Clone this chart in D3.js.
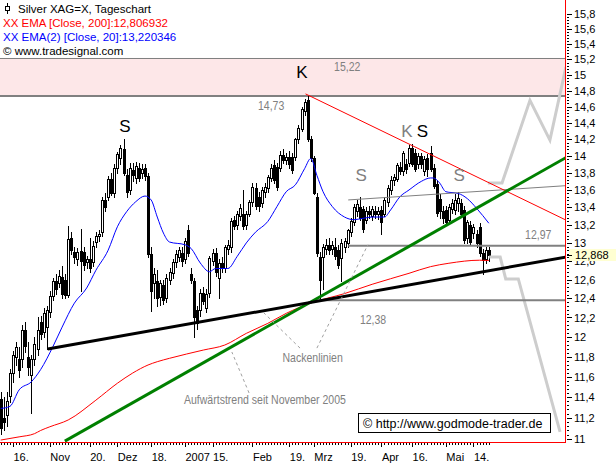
<!DOCTYPE html>
<html><head><meta charset="utf-8">
<script src="https://cdn.jsdelivr.net/npm/d3@7/dist/d3.min.js"></script>
<style>
html,body{margin:0;padding:0;background:#fff;overflow:hidden}
svg{display:block}
text{font-family:"Liberation Sans",Arial,sans-serif}
</style></head><body>
<svg id="chart" width="616" height="467"></svg>
<script>
// ---- daily candles, trading day 0 = 10 Oct 2006 ----
const openP = [11.38,11.20,11.23,11.41,11.64,11.80,11.78,11.78,12.07,11.80,
11.62,11.78,11.88,12.15,12.05,12.10,12.26,12.43,12.58,12.56,
12.63,12.60,12.44,13.06,12.90,12.82,12.91,12.90,12.79,12.82,
12.79,13.01,13.08,13.12,13.49,13.52,13.73,13.57,13.86,13.98,
14.08,13.77,13.60,13.83,13.74,13.86,13.80,13.86,13.76,12.88,
12.56,12.59,12.42,12.54,12.40,12.60,12.67,12.79,12.85,12.89,
12.82,13.14,12.66,12.58,12.28,12.28,12.46,12.30,12.46,12.80,
12.89,12.62,12.78,12.72,12.93,12.95,13.26,13.20,13.30,13.33,
13.20,13.33,13.46,13.62,13.52,13.45,13.58,13.62,13.74,13.89,
13.87,13.86,14.01,13.95,13.99,13.99,13.99,14.20,14.33,14.55,
14.68,14.20,13.97,13.52,12.84,12.84,12.93,12.98,12.93,12.96,
12.92,12.83,12.96,13.00,13.12,13.23,13.36,13.40,13.38,13.26,
13.36,13.30,13.36,13.32,13.37,13.33,13.46,13.60,13.72,13.73,
13.87,13.82,13.90,13.92,14.09,14.03,13.90,14.00,13.82,13.97,
14.03,13.86,13.67,13.50,13.36,13.37,13.26,13.38,13.37,13.45,
13.45,13.37,13.05,13.20,13.11,13.10,13.18,12.89,12.82,12.92];
const highP = [11.45,11.40,11.45,11.68,11.86,11.95,11.90,12.12,12.15,11.95,
11.82,12.00,12.20,12.22,12.30,12.32,12.48,12.62,12.66,12.70,
12.75,12.66,13.19,13.12,12.95,12.94,13.15,12.95,12.86,13.06,
13.02,13.12,13.14,13.52,13.56,13.76,13.80,13.90,14.05,14.13,
14.20,13.84,13.92,13.92,13.93,13.92,13.90,13.90,13.80,12.95,
12.72,12.70,12.60,12.60,12.66,12.72,12.82,12.92,12.95,12.96,
13.06,13.20,12.72,12.62,12.32,12.50,12.52,12.50,12.86,12.93,
12.94,12.82,12.84,12.98,13.03,13.28,13.30,13.36,13.44,13.60,
13.36,13.48,13.68,13.68,13.58,13.64,13.68,13.78,13.90,13.95,
13.92,14.06,14.08,14.04,14.06,14.04,14.22,14.37,14.60,14.70,
14.73,14.24,14.00,13.57,12.90,12.99,13.04,13.06,13.02,13.05,
12.98,13.04,13.06,13.16,13.28,13.44,13.48,13.52,13.42,13.40,
13.42,13.42,13.42,13.40,13.42,13.52,13.66,13.76,13.79,13.92,
13.93,14.06,13.96,14.13,14.14,14.08,14.04,14.04,14.00,14.02,
14.12,13.90,13.70,13.55,13.42,13.41,13.44,13.50,13.55,13.58,
13.50,13.42,13.26,13.24,13.21,13.14,13.22,12.93,12.96,12.96];
const lowP = [11.05,11.08,11.12,11.35,11.55,11.72,11.60,11.70,11.85,11.62,
11.25,11.72,11.82,11.98,12.00,11.88,12.20,12.38,12.45,12.52,
12.40,12.40,12.42,12.88,12.78,12.76,12.48,12.70,12.72,12.68,
12.75,12.96,13.02,13.08,13.36,13.48,13.54,13.52,13.80,13.90,
13.78,13.52,13.55,13.70,13.68,13.70,13.74,13.72,12.85,12.27,
12.40,12.32,12.33,12.34,12.36,12.55,12.62,12.74,12.80,12.75,
12.78,12.86,12.56,12.00,12.08,12.22,12.34,12.26,12.42,12.76,
12.64,12.40,12.68,12.68,12.88,12.90,13.15,13.16,13.26,13.15,
13.16,13.30,13.42,13.38,13.36,13.40,13.52,13.58,13.70,13.68,
13.60,13.82,13.92,13.90,13.86,13.80,13.95,14.16,14.30,14.50,
14.18,13.94,13.55,12.86,12.38,12.50,12.88,12.88,12.88,12.82,
12.72,12.58,12.90,12.96,13.08,13.20,13.30,13.26,13.12,13.22,
13.28,13.26,13.28,13.27,13.10,13.30,13.42,13.55,13.66,13.70,
13.79,13.78,13.80,13.88,13.88,13.82,13.86,13.86,13.78,13.76,
13.82,13.62,13.30,13.28,13.22,13.20,13.22,13.34,13.33,13.36,
13.30,13.00,13.00,12.98,13.06,12.96,12.86,12.66,12.78,12.80];
const closeP = [11.10,11.16,11.36,11.64,11.82,11.90,11.67,12.07,11.91,11.70,
11.78,11.93,12.07,12.03,12.25,12.28,12.43,12.58,12.50,12.64,
12.45,12.44,13.04,12.92,12.84,12.90,12.80,12.76,12.82,12.73,
12.97,13.08,13.10,13.49,13.40,13.73,13.57,13.86,14.02,14.10,
13.80,13.58,13.86,13.77,13.88,13.74,13.84,13.76,12.88,12.48,
12.66,12.40,12.56,12.38,12.62,12.68,12.79,12.88,12.92,12.80,
13.02,12.89,12.60,12.20,12.14,12.46,12.37,12.45,12.83,12.89,
12.68,12.78,12.72,12.95,12.98,13.25,13.19,13.32,13.39,13.19,
13.33,13.46,13.63,13.41,13.42,13.60,13.63,13.75,13.86,13.72,
13.64,14.01,13.95,13.99,13.90,13.83,14.20,14.34,14.57,14.66,
14.20,13.97,13.57,12.89,12.60,12.95,12.98,12.92,12.98,12.86,
12.76,13.00,13.02,13.14,13.24,13.40,13.44,13.28,13.16,13.36,
13.32,13.38,13.32,13.36,13.23,13.48,13.62,13.72,13.75,13.89,
13.82,14.03,13.84,14.10,13.90,13.85,14.00,13.90,13.96,13.84,
13.85,13.65,13.34,13.36,13.28,13.23,13.40,13.45,13.48,13.51,
13.33,13.03,13.23,13.01,13.18,13.00,12.89,12.81,12.92,12.868];

// ---- indicators (at these trading days) ----
const ema20Day = [0,3,6,10,13,17,20,24,28,31,35,38,41,44,47,49,51,53,55,60,62,65,68,70,74,77,80,83,87,90,93,96,99,101,103,105,108,112,115,118,121,125,127,130,133,137,140,141,143,145,149,152,155,159];
const ema20Val = [11.29,11.31,11.47,11.55,11.67,11.90,12.10,12.35,12.51,12.70,12.92,13.18,13.35,13.465,13.53,13.485,13.29,13.11,13.01,12.98,12.94,12.78,12.685,12.72,12.72,12.85,13.00,13.12,13.24,13.41,13.58,13.66,13.85,13.97,13.77,13.58,13.41,13.29,13.26,13.275,13.29,13.29,13.37,13.52,13.60,13.70,13.74,13.74,13.68,13.58,13.56,13.50,13.39,13.22];
const ema200Day = [0,6,11,13,16,22,31,38,43,48,51,55,66,73,80,87,93,101,112,121,133,140,146,156,159];
const ema200Val = [10.99,11.02,11.05,11.08,11.115,11.18,11.37,11.535,11.636,11.716,11.749,11.783,11.866,11.917,12.036,12.139,12.243,12.351,12.451,12.55,12.668,12.74,12.777,12.81,12.807];

// ---- axis ticks ----
const xTickDay = [4,16,29,38,49,60,69,82,94,102,114,124,134,145,154];
const xTickLabel = ["16.","Nov","20.","Dez","18.","2007","15.","Feb","19.","Mrz","19.","Apr","16.","Mai","14."];
const yTickVal = [11,11.2,11.4,11.6,11.8,12,12.2,12.4,12.6,12.8,13,13.2,13.4,13.6,13.8,14,14.2,14.4,14.6,14.8,15,15.2,15.4,15.6,15.8];
const yTickLabel = ["11","11,2","11,4","11,6","11,8","12","12,2","12,4","12,6","12,8","13","13,2","13,4","13,6","13,8","14","14,2","14,4","14,6","14,8","15","15,2","15,4","15,6","15,8"];
const lastPrice = 12.868;

// ---- drawn analysis objects: [trading day, price] ----
const zoneHigh = 15.22, zoneLow = 14.73;
const greenTrend = [[20.9,10.98],[184.1,13.98]];
const blackNeck = [[15.3,11.876],[184.1,12.845]];
const redResist = [[99.3,14.76],[184.1,13.256]];
const grayNeck = [[113.2,13.485],[184.1,13.65]];
const level1297 = [[113.2,12.97],[184.1,12.97]];
const level1238 = [[103.5,12.38],[184.1,12.38]];
const bullPath = [[158.7,13.68],[163.3,13.68],[172.4,14.68],[178.9,14.19],[184.1,15.10]];
const bearPath = [[159.1,12.845],[162.7,12.845],[164.5,12.607],[168.6,12.607],[182.2,11.066]];
const pointerLines = [
  [[97.5,11.886],[85.4,12.258]],
  [[103.0,11.886],[119.6,12.98]],
  [[80.9,11.44],[75.3,11.846]]
];
const grayTexts = [
  {t:"15,22", d:108.6, p:15.05},
  {t:"14,73", d:83.8, p:14.56},
  {t:"12,97", d:170.8, p:13.04},
  {t:"12,38", d:117, p:12.13},
  {t:"Nackenlinien", d:91.8, p:11.75},
  {t:"Aufwärtstrend seit November 2005", d:59.7, p:11.33}
];
const patternLetters = [
  {t:"K", d:98.1, p:14.96, c:"#000"},
  {t:"S", d:40.5, p:14.29, c:"#000"},
  {t:"S", d:117.4, p:13.70, c:"#808080"},
  {t:"K", d:132.3, p:14.23, c:"#808080"},
  {t:"S", d:137.4, p:14.23, c:"#000"},
  {t:"S", d:149.3, p:13.70, c:"#808080"}
];

const svg = d3.select("#chart");
const PW = 565, PH = 442;
const x = d3.scaleLinear().domain([0,184]).range([0.7,565.58]);
const y = d3.scaleLog().domain([11,15.8]).range([439,14]);
const line = d3.line().x(d=>x(d[0])).y(d=>y(d[1]));

svg.append("rect").attr("width",616).attr("height",467).attr("fill","#fff");
svg.append("clipPath").attr("id","plot").append("rect").attr("x",0).attr("y",0).attr("width",PW).attr("height",PH);
const g = svg.append("g").attr("clip-path","url(#plot)");

// zone
g.append("rect").attr("x",0).attr("width",PW)
  .attr("y",y(zoneHigh)).attr("height",y(zoneLow)-y(zoneHigh)).attr("fill","#fde7e8");
g.append("line").attr("x1",0).attr("x2",PW).attr("y1",Math.round(y(zoneHigh))+0.5).attr("y2",Math.round(y(zoneHigh))+0.5)
  .attr("stroke","#808080").attr("stroke-width",1);
g.append("line").attr("x1",0).attr("x2",PW).attr("y1",Math.round(y(zoneLow))).attr("y2",Math.round(y(zoneLow)))
  .attr("stroke","#808080").attr("stroke-width",2);

// candles
const idx = d3.range(closeP.length);
const cg = g.append("g").attr("shape-rendering","crispEdges");
idx.forEach(i=>{
  const cx = Math.round(x(i));
  const o=openP[i], c=closeP[i];
  cg.append("line").attr("x1",cx+0.5).attr("x2",cx+0.5)
    .attr("y1",Math.round(y(highP[i]))).attr("y2",Math.round(y(lowP[i]))+1).attr("stroke","#000");
  const top = Math.round(y(Math.max(o,c))), bot = Math.round(y(Math.min(o,c)));
  if (c >= o) {
    cg.append("rect").attr("x",cx-0.5).attr("y",top+0.5).attr("width",2).attr("height",Math.max(1,bot-top))
      .attr("fill","#fff").attr("stroke","#000").attr("stroke-width",1);
  } else {
    cg.append("rect").attr("x",cx-1).attr("y",top).attr("width",3).attr("height",Math.max(1,bot-top+1)).attr("fill","#000");
  }
});

// indicators
g.append("path").datum(ema200Day.map((d,i)=>[d,ema200Val[i]]))
  .attr("d",line.curve(d3.curveMonotoneX)).attr("fill","none").attr("stroke","#ff0000").attr("stroke-width",1);
g.append("path").datum(ema20Day.map((d,i)=>[d,ema20Val[i]]))
  .attr("d",line.curve(d3.curveMonotoneX)).attr("fill","none").attr("stroke","#0000ff").attr("stroke-width",1);
line.curve(d3.curveLinear);

// analysis lines
function drawLine(pts, color, w, dash){
  const p = g.append("path").datum(pts).attr("d",line).attr("fill","none").attr("stroke",color).attr("stroke-width",w);
  if (dash) p.attr("stroke-dasharray",dash);
  return p;
}
drawLine(bullPath,"#cdcdcd",3);
drawLine(bearPath,"#cdcdcd",3);
drawLine(level1297,"#808080",2);
drawLine(level1238,"#808080",2);
drawLine(grayNeck,"#808080",1);
drawLine(redResist,"#ff0000",1);
drawLine(greenTrend,"#008000",3);
drawLine(blackNeck,"#000000",3);
pointerLines.forEach(pl=>drawLine(pl,"#a0a0a0",1,"3,3"));

// annotation texts (condensed face, like the original)
grayTexts.forEach(a=>{
  svg.append("text").attr("transform",`translate(${x(a.d)},${y(a.p)}) scale(0.81,1)`)
    .attr("font-size",13).attr("fill","#808080").text(a.t);
});
patternLetters.forEach(a=>{
  svg.append("text").attr("x",x(a.d)).attr("y",y(a.p)).attr("text-anchor","middle")
    .attr("font-size",17).attr("fill",a.c).text(a.t);
});

// frame
svg.append("line").attr("x1",565.5).attr("x2",565.5).attr("y1",0).attr("y2",442.5).attr("stroke","#ff0000").attr("shape-rendering","crispEdges");
svg.append("line").attr("x1",0).attr("x2",566).attr("y1",442.5).attr("y2",442.5).attr("stroke","#ff0000").attr("shape-rendering","crispEdges");

// x axis
const xMinor = svg.append("g").attr("transform","translate(0,443)").attr("shape-rendering","crispEdges")
  .call(d3.axisBottom(x).tickValues(idx).tickSize(2).tickFormat(""));
xMinor.select(".domain").remove();
const xMajor = svg.append("g").attr("transform","translate(0,443)").attr("shape-rendering","crispEdges")
  .call(d3.axisBottom(x).tickValues(xTickDay).tickSize(4).tickFormat((d,i)=>xTickLabel[i]));
xMajor.select(".domain").remove();
xMajor.selectAll("text").attr("text-anchor","start").attr("x",0).attr("y",18).attr("dy",null)
  .attr("font-size",11).attr("font-family","Liberation Sans, Arial, sans-serif").attr("fill","#000");

// y axis
const yMinorVals = d3.range(11, 15.81, 0.04);
const yMinor = svg.append("g").attr("transform","translate(567,0)").attr("shape-rendering","crispEdges")
  .call(d3.axisRight(y).tickValues(yMinorVals).tickSize(2).tickFormat(""));
yMinor.select(".domain").remove();
const yMajor = svg.append("g").attr("transform","translate(567,0)").attr("shape-rendering","crispEdges")
  .call(d3.axisRight(y).tickValues(yTickVal).tickSize(5).tickPadding(2).tickFormat((d,i)=>yTickLabel[i]));
yMajor.select(".domain").remove();
yMajor.selectAll("text").attr("font-size",11).attr("font-family","Liberation Sans, Arial, sans-serif").attr("fill","#000");

// last price marker (drawn over the axis, as in the original)
const ly = y(lastPrice);
svg.append("rect").attr("x",569).attr("y",Math.round(ly)-6).attr("width",47).attr("height",12).attr("fill","#ffffd2");
svg.append("line").attr("x1",567).attr("x2",572).attr("y1",Math.round(ly)+0.5).attr("y2",Math.round(ly)+0.5).attr("stroke","#000").attr("shape-rendering","crispEdges");
svg.append("text").attr("x",575).attr("y",ly).attr("dy","0.35em").attr("font-size",11).text("12,868");

// copyright box
svg.append("rect").attr("x",358.5).attr("y",413.5).attr("width",192).attr("height",19).attr("fill","#fff").attr("stroke","#000");
svg.append("text").attr("x",363).attr("y",428).attr("font-size",12.5).text("\u00a9 http://www.godmode-trader.de");

// legend
svg.append("line").attr("x1",7.5).attr("x2",7.5).attr("y1",3).attr("y2",14).attr("stroke","#000").attr("shape-rendering","crispEdges");
svg.append("rect").attr("x",5.5).attr("y",6.5).attr("width",4).attr("height",4).attr("fill","#fff").attr("stroke","#000").attr("shape-rendering","crispEdges");
svg.append("text").attr("x",18).attr("y",12.5).attr("font-size",11.5).attr("fill","#000").text("Silver XAG=X, Tageschart");
svg.append("text").attr("x",3).attr("y",27).attr("font-size",11.5).attr("fill","#ff0000").text("XX EMA [Close, 200]:12,806932");
svg.append("text").attr("x",3).attr("y",40.5).attr("font-size",11.5).attr("fill","#0000ff").text("XX EMA(2) [Close, 20]:13,220346");
svg.append("text").attr("x",3).attr("y",55).attr("font-size",11.5).attr("fill","#000").text("\u00a9 www.tradesignal.com");
</script>
</body></html>
